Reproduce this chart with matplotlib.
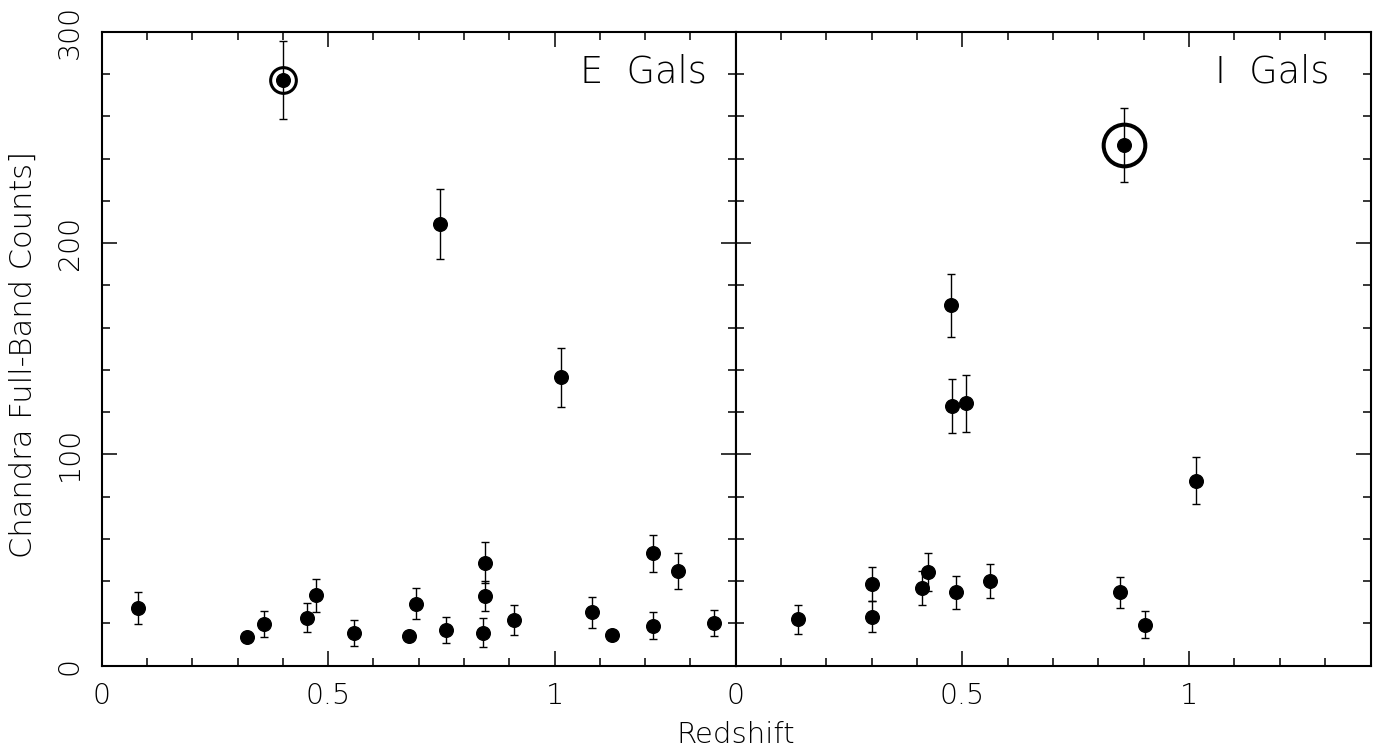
import numpy as np
import matplotlib
matplotlib.use("Agg")
import matplotlib.pyplot as plt
from matplotlib.ticker import MultipleLocator, FixedLocator, FixedFormatter

plt.rcParams['font.family'] = ['DejaVu Sans']
plt.rcParams['font.weight'] = 'light'

# ---- E galaxies (left panel) ----
e_z = [0.0795, 0.320, 0.358, 0.454, 0.473, 0.557, 0.678, 0.695, 0.761, 0.846,
       0.846, 0.841, 0.911, 1.082, 1.126, 1.218, 1.273, 1.218, 1.353,
       0.400, 0.747, 1.015]
e_counts = [27.4, 13.4, 19.7, 22.8, 33.4, 15.6, 13.9, 29.3, 16.9, 48.7,
            33.1, 15.6, 21.6, 25.2, 14.5, 53.1, 44.9, 18.9, 20.3,
            277.1, 209.0, 136.4]
e_err = [7.45, 0.0, 6.2, 6.85, 7.85, 6.1, 0.0, 7.3, 6.0, 9.7,
         7.2, 6.95, 7.0, 7.2, 0.0, 8.95, 8.45, 6.45, 6.15,
         18.4, 16.7, 14.0]
e_circled_z = [0.400]
e_circled_counts = [277.1]

# ---- I galaxies (right panel) ----
i_z = [0.138, 0.300, 0.300, 0.410, 0.424, 0.485, 0.561, 0.847, 0.902,
       0.475, 0.476, 0.509, 1.015, 0.856]
i_counts = [21.9, 38.6, 23.1, 36.8, 44.2, 34.7, 40.2, 34.7, 19.4,
            170.5, 122.9, 124.1, 87.6, 246.4]
i_err = [6.9, 8.2, 7.3, 8.0, 9.0, 7.8, 8.0, 7.5, 6.5,
         14.8, 12.6, 13.3, 11.1, 17.6]
i_circled_z = [0.856]
i_circled_counts = [246.4]

panel_titles = ["E  Gals", "I  Gals"]
xtick_vals = [0, 0.5, 1]
xtick_labels = ["0", "0.5", "1"]
ytick_vals = [0, 100, 200, 300]
ytick_labels = ["0", "100", "200", "300"]
xlabel = "Redshift"
ylabel = "Chandra Full-Band Counts]"

W, H = 1380, 752
fig = plt.figure(figsize=(W / 100, H / 100), dpi=100)

left0, bottom0 = 101.7, 665.7
top0 = 31.7
mid = 735.7
right0 = 1370.5
axL = fig.add_axes([left0 / W, 1 - bottom0 / H, (mid - left0) / W, (bottom0 - top0) / H])
axR = fig.add_axes([mid / W, 1 - bottom0 / H, (right0 - mid) / W, (bottom0 - top0) / H])

FS = 20.5
for ax in (axL, axR):
    ax.set_xlim(0, 1.4)
    ax.set_ylim(0, 300)
    ax.xaxis.set_major_locator(FixedLocator(xtick_vals))
    ax.xaxis.set_major_formatter(FixedFormatter(xtick_labels))
    ax.xaxis.set_minor_locator(MultipleLocator(0.1))
    ax.yaxis.set_major_locator(FixedLocator(ytick_vals))
    ax.yaxis.set_minor_locator(MultipleLocator(20))
    ax.tick_params(which='both', direction='in', top=True, right=True,
                   bottom=True, left=True, color='black')
    ax.tick_params(which='major', length=11, width=1.1)
    ax.tick_params(which='minor', length=5.5, width=1.1)
    ax.tick_params(axis='x', which='major', labelsize=FS, pad=12, labelcolor='black')
    for s in ax.spines.values():
        s.set_linewidth(1.5)
        s.set_color('black')

axL.yaxis.set_major_formatter(FixedFormatter(ytick_labels))
axL.tick_params(axis='y', which='major', labelsize=FS, pad=13, labelrotation=90,
                labelcolor='black')
for lab in axL.get_yticklabels():
    lab.set_va('center')
axR.tick_params(axis='y', labelleft=False)

err_kw = dict(fmt='o', color='black', ms=9.8, mfc='black', mec='black',
              ecolor='black', elinewidth=1.0, capsize=3.0, capthick=1.0, zorder=3)

axL.errorbar(e_z, e_counts, yerr=e_err, **err_kw)
axR.errorbar(i_z, i_counts, yerr=i_err, **err_kw)

axL.plot(e_circled_z, e_circled_counts, 'o', ms=18.5, mfc='none', mec='black',
         mew=2.2, zorder=4)
axR.plot(i_circled_z, i_circled_counts, 'o', ms=30, mfc='none', mec='black',
         mew=2.9, zorder=4)

for ax, title in zip((axL, axR), panel_titles):
    ax.text(1.057, 276, title, ha='left', va='baseline', fontsize=26.5, color='black')

fig.text(mid / W, 1 - 743 / H, xlabel, ha='center', va='baseline', fontsize=FS + 0.5,
         color='black')
fig.text(23 / W, 1 - 354 / H, ylabel, ha='center', va='center', rotation=90,
         fontsize=FS + 1.5, color='black')

fig.savefig("out.png", dpi=100)
